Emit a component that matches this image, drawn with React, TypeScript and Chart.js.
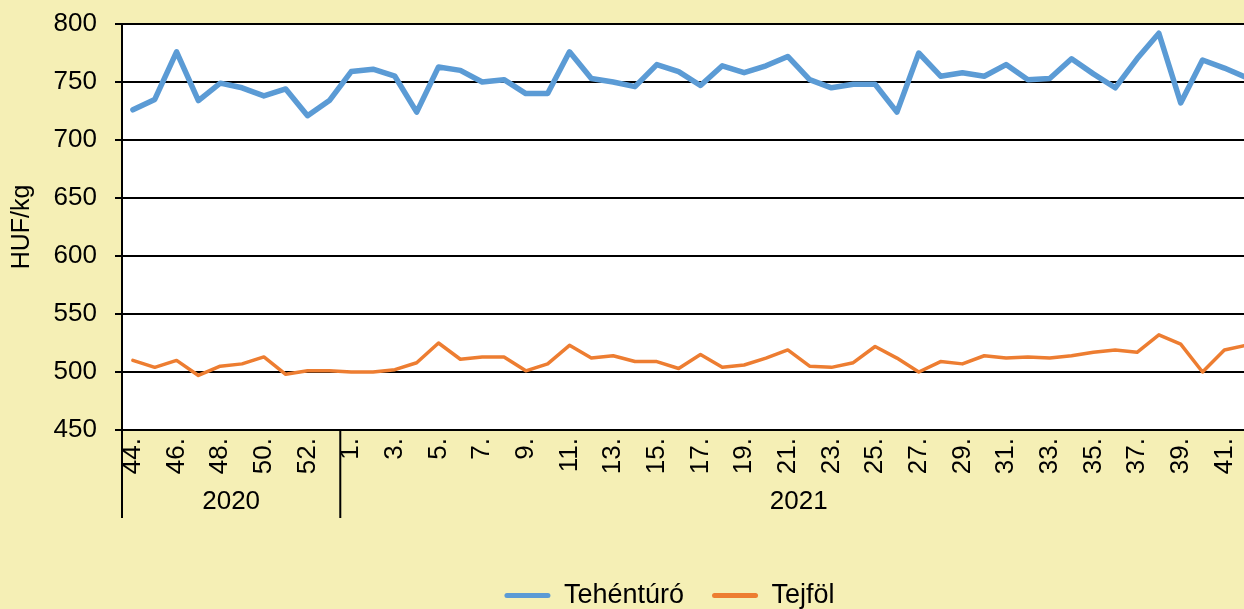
import React, { useEffect, useRef } from 'react';
import { Chart, registerables } from 'chart.js';

Chart.register(...registerables);

// ---- data ----
const weeks2020 = ['44.', '45.', '46.', '47.', '48.', '49.', '50.', '51.', '52.', '53.'];
const weeks2021 = [
  '1.', '2.', '3.', '4.', '5.', '6.', '7.', '8.', '9.', '10.',
  '11.', '12.', '13.', '14.', '15.', '16.', '17.', '18.', '19.', '20.',
  '21.', '22.', '23.', '24.', '25.', '26.', '27.', '28.', '29.', '30.',
  '31.', '32.', '33.', '34.', '35.', '36.', '37.', '38.', '39.', '40.',
  '41.', '42.',
];
const years = ['2020', '2021'];
const weekLabels = [...weeks2020, ...weeks2021];

const seriesNames = ['Tehéntúró', 'Tejföl'];

const tehenturo = [
  726, 735, 776, 734, 749, 745, 738, 744, 721, 734,
  759, 761, 755, 724, 763, 760, 750, 752, 740, 740,
  776, 753, 750, 746, 765, 759, 747, 764, 758, 764,
  772, 752, 745, 748, 748, 724, 775, 755, 758, 755,
  765, 752, 753, 770, 757, 745, 770, 792, 732, 769,
  762, 754,
];

const tejfol = [
  510, 504, 510, 497, 505, 507, 513, 498, 501, 501,
  500, 500, 502, 508, 525, 511, 513, 513, 501, 507,
  523, 512, 514, 509, 509, 503, 515, 504, 506, 512,
  519, 505, 504, 508, 522, 512, 500, 509, 507, 514,
  512, 513, 512, 514, 517, 519, 517, 532, 524, 500,
  519, 523,
];

const yMin = 450;
const yMax = 800;
const yStep = 50;

// ---- styling ----
const FONT = '"Liberation Sans", Arial, Helvetica, sans-serif';
const BG = '#F5EFB5';
const BLUE = '#5B9BD5';
const ORANGE = '#ED7D31';
const visibleCategorySpan = 51.4; // part of the category axis visible in the picture

const plotBackground = {
  id: 'plotBackground',
  beforeDraw(chart: any) {
    const { ctx, chartArea } = chart;
    ctx.save();
    ctx.fillStyle = '#FFFFFF';
    ctx.fillRect(chartArea.left, chartArea.top, chartArea.right - chartArea.left, chartArea.bottom - chartArea.top);
    ctx.restore();
  },
};

const yearGroups = {
  id: 'yearGroups',
  afterDraw(chart: any) {
    const { ctx, chartArea } = chart;
    const x = chart.scales.x;
    const groups = [
      { label: years[0], count: weeks2020.length },
      { label: years[1], count: weeks2021.length },
    ];
    ctx.save();
    ctx.strokeStyle = '#000';
    ctx.lineWidth = 2;
    ctx.fillStyle = '#000';
    ctx.font = `26px ${FONT}`;
    ctx.textAlign = 'center';
    ctx.textBaseline = 'middle';
    const top = chartArea.bottom;
    const bottom = chartArea.bottom + 88;
    let start = 0;
    groups.forEach((g, gi) => {
      const left = x.getPixelForValue(start - 0.5);
      const right = x.getPixelForValue(start + g.count - 0.5);
      ctx.beginPath();
      ctx.moveTo(left, top);
      ctx.lineTo(left, bottom);
      if (gi === groups.length - 1) {
        ctx.moveTo(right, top);
        ctx.lineTo(right, bottom);
      }
      ctx.stroke();
      ctx.fillText(g.label, (left + right) / 2, chartArea.bottom + 72);
      start += g.count;
    });
    ctx.restore();
  },
};

const legendDx = -13.5;
const legendDy = 10;
const legendShift = {
  id: 'legendShift',
  afterLayout(chart: any) {
    const l = chart.legend;
    if (!l) return;
    l.left += legendDx;
    l.right += legendDx;
    l.top += legendDy;
    l.bottom += legendDy;
  },
};

export default function App() {
  const ref = useRef<HTMLCanvasElement>(null);

  useEffect(() => {
    const canvas = ref.current;
    if (!canvas) return;
    Chart.defaults.font.family = FONT;
    Chart.defaults.color = '#000';

    const defaultGen = (Chart.defaults as any).plugins.legend.labels.generateLabels;

    const chart = new Chart(canvas, {
      type: 'line',
      data: {
        datasets: [
          {
            label: seriesNames[0],
            data: tehenturo.map((v, i) => ({ x: i, y: v })),
            borderColor: BLUE,
            backgroundColor: BLUE,
            borderWidth: 5.5,
            pointRadius: 0,
            tension: 0,
            borderJoinStyle: 'round',
            borderCapStyle: 'round',
          },
          {
            label: seriesNames[1],
            data: tejfol.map((v, i) => ({ x: i, y: v })),
            borderColor: ORANGE,
            backgroundColor: ORANGE,
            borderWidth: 3.5,
            pointRadius: 0,
            tension: 0,
            borderJoinStyle: 'round',
            borderCapStyle: 'round',
          },
        ],
      },
      options: {
        animation: false,
        responsive: false,
        devicePixelRatio: 1,
        layout: { padding: { top: 24, left: 0, right: 0, bottom: 0 } },
        scales: {
          x: {
            type: 'linear',
            min: -0.5,
            max: -0.5 + visibleCategorySpan,
            grid: { display: false, drawTicks: false },
            border: { display: true, color: '#000', width: 2 },
            ticks: {
              stepSize: 1,
              includeBounds: false,
              autoSkip: false,
              minRotation: 90,
              maxRotation: 90,
              padding: 8,
              color: '#000',
              font: { size: 26 },
              callback: (v: any) => {
                const i = Number(v);
                if (!Number.isInteger(i) || i % 2 !== 0) return '';
                return weekLabels[i] ?? '';
              },
            },
            afterFit: (s: any) => {
              s.height = 114;
              s.paddingLeft = 0;
              s.paddingRight = 0;
            },
          },
          y: {
            min: yMin,
            max: yMax,
            ticks: { stepSize: yStep, padding: 18, color: '#000', font: { size: 26 } },
            grid: { color: '#000', lineWidth: 2, tickLength: 7 },
            border: { display: true, color: '#000', width: 2 },
            title: {
              display: true,
              text: 'HUF/kg',
              color: '#000',
              font: { size: 25 },
              padding: { top: 7, bottom: 0 },
            },
            afterFit: (s: any) => {
              s.width = 122;
              s.paddingTop = 0;
              s.paddingBottom = 0;
            },
          },
        },
        plugins: {
          tooltip: { enabled: false },
          legend: {
            position: 'bottom',
            fullSize: false,
            labels: {
              color: '#000',
              font: { size: 27 },
              boxWidth: 46,
              boxHeight: 5,
              padding: 28,
              useBorderRadius: true,
              borderRadius: 2.5,
              generateLabels: (c: any) =>
                defaultGen(c).map((l: any) => ({ ...l, lineWidth: 0, fillStyle: l.strokeStyle })),
            },
          },
        },
      } as any,
      plugins: [plotBackground, yearGroups, legendShift],
    });

    return () => chart.destroy();
  }, []);

  return (
    <div
      style={{
        position: 'fixed',
        left: 0,
        top: 0,
        width: 1244,
        height: 609,
        background: BG,
        overflow: 'hidden',
      }}
    >
      <canvas ref={ref} width={1244} height={609} style={{ display: 'block', width: 1244, height: 609 }} />
    </div>
  );
}
